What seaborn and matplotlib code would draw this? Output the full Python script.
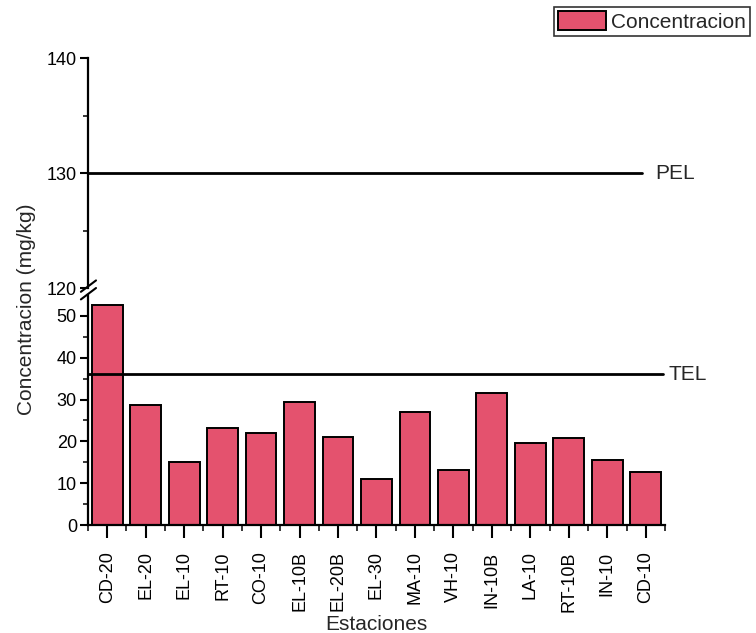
import matplotlib
matplotlib.use("Agg")
import matplotlib.pyplot as plt
from matplotlib.lines import Line2D
from matplotlib.ticker import MultipleLocator, FixedLocator
import seaborn as sns
import pandas as pd

estaciones = ["CD-20", "EL-20", "EL-10", "RT-10", "CO-10", "EL-10B", "EL-20B", "EL-30",
              "MA-10", "VH-10", "IN-10B", "LA-10", "RT-10B", "IN-10", "CD-10"]
concentracion = [52.5, 28.8, 15.0, 23.3, 21.9, 29.3, 21.1, 11.0,
                 27.0, 13.2, 31.5, 19.5, 20.7, 15.6, 12.7]
pel = 130
tel = 36

sns.set_theme(style="white")
plt.rcParams["font.family"] = ["Liberation Sans", "DejaVu Sans"]

df = pd.DataFrame({"Estacion": estaciones, "Concentracion": concentracion})

fig = plt.figure(figsize=(7.56, 6.33), dpi=100)
left, right = 0.1164, 0.8796
ax_up = fig.add_axes([left, 0.545, right - left, 0.363])
ax_lo = fig.add_axes([left, 0.1706, right - left, 0.3634])

bar_color = "#e4526e"
sns.barplot(data=df, x="Estacion", y="Concentracion", color=bar_color,
            edgecolor="black", linewidth=1.4, width=0.8, ax=ax_lo,
            saturation=1, label="Concentracion", legend=False)
handles, labels = ax_lo.get_legend_handles_labels()
if ax_lo.get_legend() is not None:
    ax_lo.get_legend().remove()

n = len(estaciones)
for ax in (ax_up, ax_lo):
    ax.set_xlim(-0.5, n - 0.5)
    for s in ax.spines.values():
        s.set_linewidth(1.6)
        s.set_color("black")
    ax.spines["top"].set_visible(False)
    ax.spines["right"].set_visible(False)
    ax.tick_params(axis="y", which="major", direction="out", length=6, width=1.5,
                   left=True, labelsize=13, colors="black", pad=2)
    ax.tick_params(axis="y", which="minor", direction="out", length=3.5, width=1.3, left=True)

# upper panel: 120-140
ax_up.set_ylim(120, 140)
ax_up.spines["bottom"].set_visible(False)
ax_up.yaxis.set_major_locator(MultipleLocator(10))
ax_up.yaxis.set_minor_locator(MultipleLocator(5))
ax_up.set_xticks([])
ax_up.set_ylabel("")

# lower panel: 0-55
ax_lo.set_ylim(0, 55)
ax_lo.yaxis.set_major_locator(FixedLocator([0, 10, 20, 30, 40, 50]))
ax_lo.yaxis.set_minor_locator(FixedLocator([5, 15, 25, 35, 45]))
ax_lo.xaxis.set_minor_locator(FixedLocator([i + 0.5 for i in range(-1, n)]))
ax_lo.tick_params(axis="x", which="major", direction="out", length=9, width=1.5,
                  bottom=True, labelsize=13, colors="black", labelrotation=90, pad=10)
ax_lo.tick_params(axis="x", which="minor", direction="out", length=4, width=1.3, bottom=True)
ax_lo.set_xlabel("Estaciones", fontsize=15, labelpad=2)
ax_lo.set_ylabel("")

# guideline levels
ax_up.plot([-0.5, 13.9], [pel, pel], color="black", lw=2, clip_on=False)
ax_up.text(14.25, pel, "PEL", fontsize=15, va="center", ha="left")
ax_lo.plot([-0.5, 14.45], [tel, tel], color="black", lw=2, clip_on=False)
ax_lo.text(14.6, tel, "TEL", fontsize=15, va="center", ha="left")

fig.text(0.035, 0.512, "Concentracion (mg/kg)", rotation=90, fontsize=15,
         va="center", ha="center")

# axis break marks
for dy in (0.0, 0.012):
    fig.add_artist(Line2D([0.107, 0.127], [0.527 + dy, 0.545 + dy],
                          color="black", lw=1.5, transform=fig.transFigure))

leg = fig.legend(handles, labels, loc="upper right", bbox_to_anchor=(0.998, 0.995),
                 fontsize=15, frameon=True, fancybox=False, edgecolor="black",
                 handlelength=2.3, handleheight=1.0, borderpad=0.2,
                 handletextpad=0.25, borderaxespad=0.2)
leg.get_frame().set_linewidth(1.2)

fig.savefig("out.png", dpi=100)
